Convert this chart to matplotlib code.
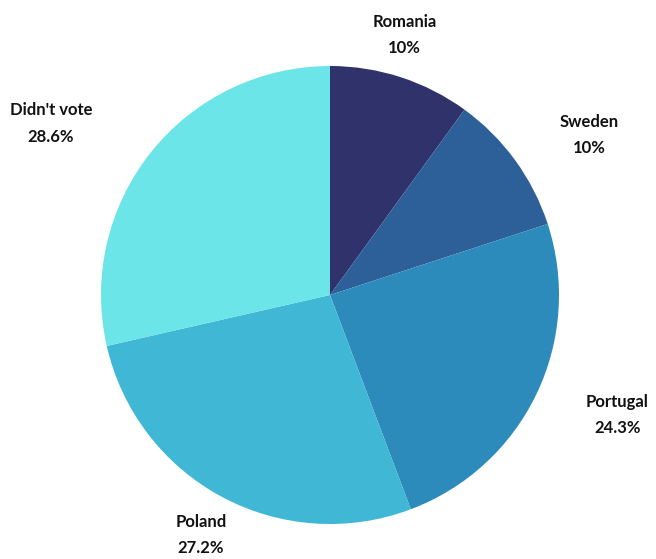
import numpy as np
import matplotlib.pyplot as plt

# share of votes, clockwise from 12 o'clock
labels = ['Romania', 'Sweden', 'Portugal', 'Poland', "Didn't vote"]
values = [10, 10, 24.3, 27.2, 28.6]
colors = ['#30336b', '#2d5f98', '#2c8bba', '#41b7d6', '#6ce5e8']

# label placement: radius factor and angle nudge (degrees) per wedge
label_dist = [1.18, 1.33, 1.36, 1.19, 1.43]
label_nudge = [2, -4.4, 3, 0, 7]

W, H = 656, 559
cx, cy, R = 330, 264, 229

fig = plt.figure(figsize=(W / 100, H / 100), dpi=100)
ax = fig.add_axes([0, 0, 1, 1])

wedges, _ = ax.pie(values, colors=colors, startangle=90, counterclock=False,
                   center=(cx, cy), radius=R, frame=True,
                   wedgeprops=dict(linewidth=0))

for w, name, v, f, d in zip(wedges, labels, values, label_dist, label_nudge):
    mid = np.deg2rad((w.theta1 + w.theta2) / 2 + d)
    x = cx + R * f * np.cos(mid)
    y = cy + R * f * np.sin(mid)
    ax.text(x, y, f'{name}\n{v:g}%', ha='center', va='center',
            fontsize=12, fontweight='bold', family='Lato',
            linespacing=1.8, color='#111111')

ax.set_xlim(0, W)
ax.set_ylim(0, H)
ax.set_aspect('equal')
ax.axis('off')

fig.savefig('out.png', dpi=100)
